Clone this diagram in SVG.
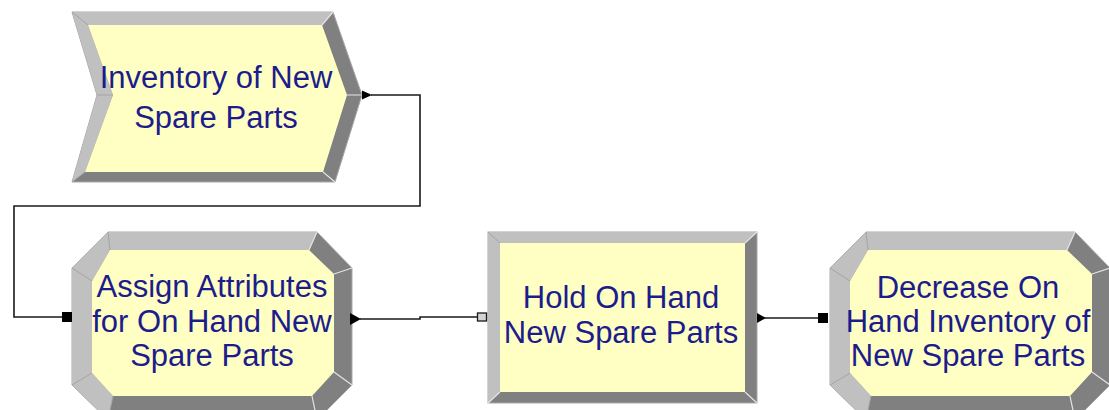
<svg xmlns="http://www.w3.org/2000/svg" xmlns:xlink="http://www.w3.org/1999/xlink" width="1109" height="410" viewBox="0 0 1109 410">
<style>
.dark{fill:#808080;stroke:#a8a8a8;stroke-width:1}
.light{fill:#c0c0c0}
.face{fill:#ffffc4}
.seam{stroke:#a4a4a4;stroke-width:1;fill:none}
.seamL{stroke:#e4e4e4;stroke-width:1.2;fill:none}
.lbl{font-family:"Liberation Sans",Arial,sans-serif;font-size:31px;fill:#1c1c8c;text-anchor:middle}
.conn{fill:none;stroke:#1a1a1a;stroke-width:1.6}
.head{fill:#000}
.hollow{fill:#d4d4d4;stroke:#1a1a1a;stroke-width:1.3}
</style>
<defs>
<g id="octShape">
<polygon class="dark" points="36,0 245,0 280,36 280,153 245,188 36,188 0,153 0,36"/>
<polygon class="light" points="36,188 0,153 0,36 36,0 245,0 237,18 38,18 20,49 20,141 41,164"/>
<polygon class="face" points="38,18 237,18 262,42 262,140 240,164 41,164 20,141 20,49"/>
<path class="seam" d="M36,0L38,18M0,36L20,49M0,153L20,141M36,188L41,164"/>
<path class="seamL" d="M245,0L237,18M280,36L262,42M280,153L262,140M245,188L240,164"/>
</g>
</defs>

<g id="node-create">
<polygon class="dark" points="72,12 333,12 362,95 335,182 72,182 97,95"/>
<polygon class="light" points="72,182 97,95 72,12 333,12 322,25 88,25 113,95 85,172"/>
<polygon class="face" points="88,25 322,25 347,95 323,172 85,172 113,95"/>
<path class="seamL" d="M347,95H362M333,12L322,25M335,182L323,172"/>
<path class="seam" d="M97,95H113M72,12L88,25M72,182L85,172"/>
<text class="lbl" x="216" y="88">Inventory of New</text>
<text class="lbl" x="216" y="128">Spare Parts</text>
</g>

<g id="node-assign">
<use xlink:href="#octShape" href="#octShape" transform="translate(72,232)"/>
<text class="lbl" x="212" y="297">Assign Attributes</text>
<text class="lbl" x="212" y="332">for On Hand New</text>
<text class="lbl" x="212" y="366">Spare Parts</text>
</g>

<g id="node-hold">
<rect class="dark" x="488" y="232" width="269" height="171"/>
<polygon class="light" points="488,403 488,232 757,232 745,243 500,243 500,392"/>
<rect class="face" x="500" y="243" width="245" height="149"/>
<path class="seam" d="M488,232L500,243"/>
<path class="seamL" d="M757,232L745,243M757,403L745,392M488,403L500,392"/>
<text class="lbl" x="621" y="308">Hold On Hand</text>
<text class="lbl" x="621" y="343">New Spare Parts</text>
</g>

<g id="node-decrease">
<use xlink:href="#octShape" href="#octShape" transform="translate(830,232)"/>
<text class="lbl" x="968" y="298">Decrease On</text>
<text class="lbl" x="968" y="332">Hand Inventory of</text>
<text class="lbl" x="968" y="366">New Spare Parts</text>
</g>

<g id="connectors">
<path class="conn" d="M371,95H420V206H14V317H62"/>
<polygon class="head" points="362,90.5 372,95 362,99.5"/>
<rect class="head" x="62" y="312" width="10" height="10"/>
<path class="conn" d="M360,319H420V317H477"/>
<polygon class="head" points="350,313 361,319 350,325"/>
<rect class="hollow" x="477.5" y="313" width="9" height="8"/>
<path class="conn" d="M765,318H818"/>
<polygon class="head" points="757,313 766,318 757,323"/>
<rect class="head" x="818" y="313" width="10" height="10"/>
</g>
</svg>
